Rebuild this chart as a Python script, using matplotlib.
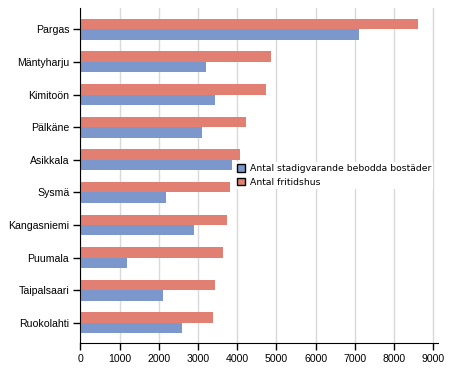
import numpy as np
import matplotlib.pyplot as plt

# kommuner med flest fritidshus
kommuner = ['Pargas', 'Mäntyharju', 'Kimitoön', 'Pälkäne', 'Asikkala',
            'Sysmä', 'Kangasniemi', 'Puumala', 'Taipalsaari', 'Ruokolahti']
bostader = [7100, 3215, 3425, 3095, 3860, 2195, 2905, 1190, 2095, 2585]
fritidshus = [8600, 4860, 4735, 4220, 4065, 3820, 3745, 3640, 3435, 3390]

red = '#e07f72'
blue = '#7b97cc'

fig = plt.figure(figsize=(4.54, 3.78), dpi=100)
ax = fig.add_axes([0.177, 0.0926, 0.788, 0.886])

y = np.arange(len(kommuner))
h = 0.32
ax.barh(y + h/2, bostader, height=h, color=blue, label='Antal stadigvarande bebodda bostäder', zorder=2)
ax.barh(y - h/2, fritidshus, height=h, color=red, label='Antal fritidshus', zorder=2)

ax.set_ylim(9.62, -0.65)
ax.set_xlim(0, 9120)
ax.set_yticks(y)
ax.set_yticklabels(kommuner, fontsize=7.6, family='Liberation Sans')
ax.set_xticks(np.arange(0, 9001, 1000))
ax.set_xticklabels([str(v) for v in range(0, 9001, 1000)], fontsize=7.6, family='Liberation Sans')
ax.xaxis.grid(True, color='#d9d9d9', linewidth=1, zorder=0)
ax.set_axisbelow(True)
for s in ['top', 'right']:
    ax.spines[s].set_visible(False)
ax.tick_params(axis='both', length=5, width=1, color='black', pad=3)

leg = fig.legend(loc='upper left', bbox_to_anchor=(0.517, 0.571), frameon=True,
                 facecolor='white', edgecolor='none', framealpha=1, fancybox=False,
                 prop={'family': 'DejaVu Sans', 'size': 6.7},
                 handlelength=0.9, handleheight=0.9, handletextpad=0.5,
                 labelspacing=0.5, borderpad=0.2, borderaxespad=0)
for p in leg.get_patches():
    p.set_edgecolor('black')
    p.set_linewidth(1)

fig.savefig('out.png', dpi=100)
